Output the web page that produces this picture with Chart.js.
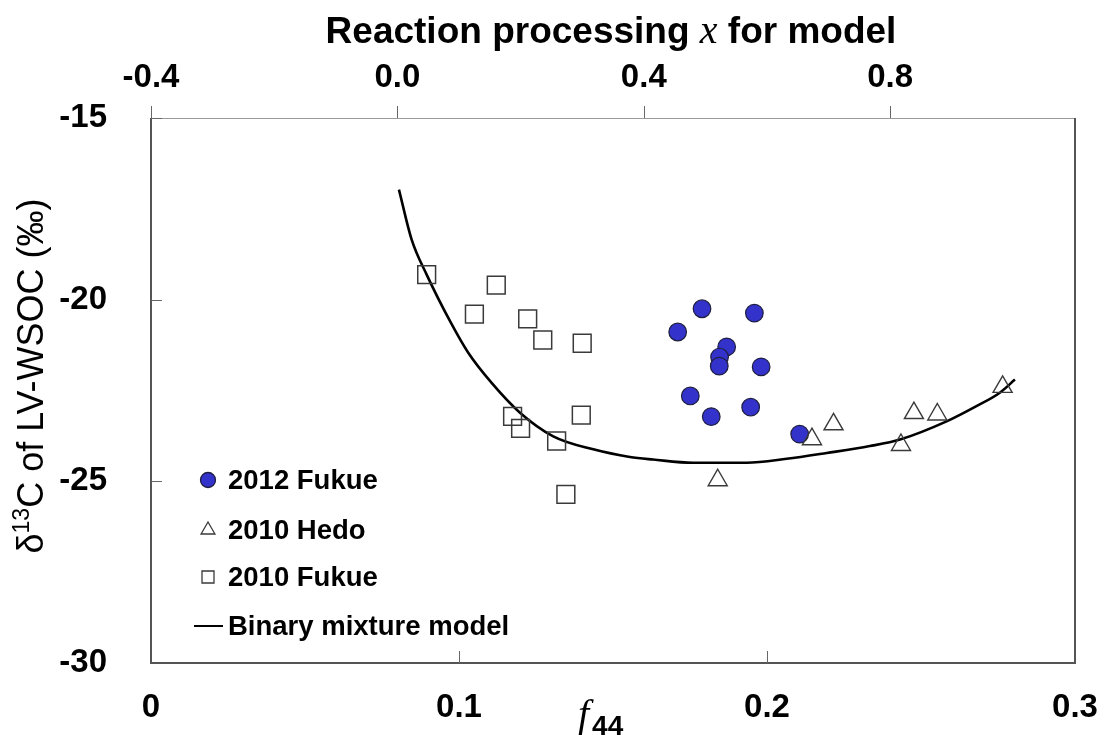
<!DOCTYPE html>
<html><head><meta charset="utf-8">
<script src="https://cdn.jsdelivr.net/npm/chart.js@4/dist/chart.umd.min.js"></script>
<style>html,body{margin:0;padding:0;background:#fff;overflow:hidden}#wrap{position:relative;width:1105px;height:735px}</style>
</head><body><div id="wrap"><canvas id="c" width="1105" height="735"></canvas></div>
<script>
// ---- data ----
const f44TickValues = [0, 0.1, 0.2, 0.3];
const f44TickLabels = ['0', '0.1', '0.2', '0.3'];
const reactionTickValues = [-0.4, 0.0, 0.4, 0.8];
const reactionTickLabels = ['-0.4', '0.0', '0.4', '0.8'];
const yTickValues = [-15, -20, -25, -30];
const yTickLabels = ['-15', '-20', '-25', '-30'];

const seriesNames = ['2012 Fukue', '2010 Hedo', '2010 Fukue', 'Binary mixture model'];

const fukue2012F44 = [0.1789, 0.1959, 0.1710, 0.1869, 0.1846, 0.1845, 0.1981, 0.1751, 0.1947, 0.1819, 0.2106];
const fukue2012D13C = [-20.25, -20.37, -20.89, -21.30, -21.58, -21.83, -21.85, -22.65, -22.96, -23.22, -23.70];

const hedo2010F44 = [0.1840, 0.2146, 0.2216, 0.2435, 0.2477, 0.2553, 0.2765];
const hedo2010D13C = [-24.97, -23.84, -23.43, -24.00, -23.12, -23.16, -22.40];

const fukue2010F44 = [0.0895, 0.1121, 0.1050, 0.1223, 0.1272, 0.1400, 0.1174, 0.1200, 0.1397, 0.1317, 0.1347];
const fukue2010D13C = [-19.31, -19.60, -20.40, -20.53, -21.11, -21.20, -23.21, -23.54, -23.18, -23.89, -25.36];

const modelF44 = [0.0805, 0.0846, 0.0895, 0.0974, 0.1030, 0.1106, 0.1198, 0.1306, 0.1436, 0.1555, 0.1630, 0.1760, 0.1934, 0.2064, 0.2194, 0.2334, 0.2432, 0.2583, 0.2680, 0.2756, 0.2805];
const modelD13C = [-16.97, -18.34, -19.31, -20.64, -21.46, -22.29, -23.11, -23.76, -24.12, -24.33, -24.40, -24.49, -24.49, -24.38, -24.22, -24.03, -23.85, -23.35, -22.93, -22.56, -22.20];

function pts(xs, ys) { return xs.map((x, i) => ({x: x, y: ys[i]})); }

const SANS = "'Liberation Sans', Arial, sans-serif";
const SERIF = "'Liberation Serif', 'Times New Roman', serif";
const frameColor = '#555555';

const decorPlugin = {
  id: 'decor',
  beforeDatasetsDraw(chart) {
    const ctx = chart.ctx, a = chart.chartArea;
    const xs = chart.scales.x, x2 = chart.scales.x2, ys = chart.scales.y;
    ctx.save();
    ctx.lineWidth = 1;
    ctx.strokeStyle = '#9a9a9a';
    ctx.beginPath(); ctx.moveTo(a.left, a.top + 0.5); ctx.lineTo(a.right, a.top + 0.5); ctx.stroke();
    ctx.lineWidth = 2;
    ctx.strokeStyle = frameColor;
    ctx.beginPath();
    ctx.moveTo(a.left, a.top); ctx.lineTo(a.left, a.bottom); ctx.lineTo(a.right, a.bottom); ctx.lineTo(a.right, a.top);
    ctx.stroke();
    ctx.lineWidth = 1;
    ctx.strokeStyle = '#666';
    ctx.beginPath();
    reactionTickValues.forEach(v => { const p = Math.round(x2.getPixelForValue(v)) + 0.5; ctx.moveTo(p, a.top); ctx.lineTo(p, a.top - 12); });
    f44TickValues.forEach(v => { const p = Math.round(xs.getPixelForValue(v)) + 0.5; if (p > a.left + 2 && p < a.right - 2) { ctx.moveTo(p, a.bottom); ctx.lineTo(p, a.bottom - 12); } });
    yTickValues.forEach(v => { const p = Math.round(ys.getPixelForValue(v)) + 0.5; if (p < a.bottom - 2) { ctx.moveTo(a.left, p); ctx.lineTo(a.left + 11, p); } });
    ctx.stroke();
    ctx.restore();
  },
  afterDraw(chart) {
    const ctx = chart.ctx;
    ctx.save();
    ctx.fillStyle = '#000';
    // top title
    const t1 = 'Reaction processing ', t2 = 'x', t3 = ' for model';
    const fB = 'bold 37px ' + SANS, fI = 'italic 40px ' + SERIF;
    ctx.font = fB; const w1 = ctx.measureText(t1).width, w3 = ctx.measureText(t3).width;
    ctx.font = fI; const w2 = ctx.measureText(t2).width;
    let x = 611 - (w1 + w2 + w3) / 2;
    ctx.textBaseline = 'alphabetic'; ctx.textAlign = 'left';
    ctx.font = fB; ctx.fillText(t1, x, 43); x += w1;
    ctx.font = fI; ctx.fillText(t2, x, 43); x += w2;
    ctx.font = fB; ctx.fillText(t3, x, 43);
    // bottom title f44
    ctx.font = 'italic 40px ' + SERIF; ctx.fillText('f', 578, 727);
    const fw = ctx.measureText('f').width;
    ctx.font = 'bold 28px ' + SANS; ctx.fillText('44', 578 + fw + 3, 735);
    // y title
    ctx.translate(33, 376); ctx.rotate(-Math.PI / 2);
    const fR = '36px ' + SANS, fS = '23px ' + SANS;
    ctx.font = fR; const a1 = ctx.measureText('\u03b4').width, a3 = ctx.measureText('C of LV-WSOC (\u2030)').width;
    ctx.font = fS; const a2 = ctx.measureText('13').width;
    let yx = -(a1 + a2 + a3) / 2;
    ctx.textBaseline = 'middle';
    ctx.font = fR; ctx.fillText('\u03b4', yx, 0); yx += a1;
    ctx.font = fS; ctx.fillText('13', yx, -10); yx += a2;
    ctx.font = fR; ctx.fillText('C of LV-WSOC (\u2030)', yx, 0);
    ctx.restore();
    // legend
    const ds = chart.data.datasets;
    const rows = [480, 530, 577, 626];
    const mx = 208, tx = 228;
    ctx.save();
    ctx.font = 'bold 27.5px ' + SANS; ctx.textBaseline = 'middle'; ctx.textAlign = 'left';
    ds.forEach((d, i) => {
      const y = rows[i];
      ctx.lineWidth = 1.3;
      ctx.strokeStyle = d.borderColor; ctx.fillStyle = d.backgroundColor;
      ctx.beginPath();
      if (d.pointStyle === 'circle') { ctx.arc(mx, y, 7.5, 0, Math.PI * 2); ctx.fill(); ctx.stroke(); }
      else if (d.pointStyle === 'triangle') { const r = 8; ctx.moveTo(mx, y - r); ctx.lineTo(mx + r * 0.866, y + r / 2); ctx.lineTo(mx - r * 0.866, y + r / 2); ctx.closePath(); ctx.stroke(); }
      else if (d.pointStyle === 'rect') { ctx.rect(mx - 6, y - 6, 12, 12); ctx.stroke(); }
      else { ctx.lineWidth = 2; ctx.strokeStyle = '#000'; ctx.moveTo(194, y); ctx.lineTo(223, y); ctx.stroke(); }
      ctx.fillStyle = '#000';
      ctx.fillText(d.label, tx, y + 1);
    });
    ctx.restore();
  }
};

const tickFont = {family: SANS, size: 33, weight: 'bold'};
function noPad(s) { s.paddingLeft = 0; s.paddingRight = 0; }

new Chart(document.getElementById('c'), {
  type: 'scatter',
  data: {
    datasets: [
      {label: seriesNames[0], data: pts(fukue2012F44, fukue2012D13C), pointStyle: 'circle', pointRadius: 8.8, pointHoverRadius: 8.8,
       backgroundColor: '#3333cc', borderColor: '#1e1e40', borderWidth: 1.2, order: 2},
      {label: seriesNames[1], data: pts(hedo2010F44, hedo2010D13C), pointStyle: 'triangle', pointRadius: 11, pointHoverRadius: 11,
       backgroundColor: 'rgba(255,255,255,0)', borderColor: '#3a3a3a', borderWidth: 1.4, order: 1},
      {label: seriesNames[2], data: pts(fukue2010F44, fukue2010D13C), pointStyle: 'rect', pointRadius: 12.6, pointHoverRadius: 12.6,
       backgroundColor: 'rgba(255,255,255,0)', borderColor: '#3a3a3a', borderWidth: 1.5, order: 3},
      {label: seriesNames[3], type: 'line', data: pts(modelF44, modelD13C), showLine: true, pointRadius: 0, borderColor: '#000',
       backgroundColor: '#000', borderWidth: 2.6, cubicInterpolationMode: 'monotone', fill: false, order: 4}
    ]
  },
  options: {
    responsive: false, animation: false, devicePixelRatio: 1,
    layout: {padding: {left: 0, right: 30, top: 0, bottom: 0}},
    plugins: {legend: {display: false}, tooltip: {enabled: false}, title: {display: false}},
    scales: {
      x: {type: 'linear', position: 'bottom', min: 0, max: 0.3,
          afterBuildTicks: s => { s.ticks = f44TickValues.map(v => ({value: v})); },
          afterFit: s => { s.height = 72; noPad(s); },
          ticks: {font: tickFont, color: '#000', padding: 25, maxRotation: 0, autoSkip: false,
                  callback: v => f44TickLabels[f44TickValues.indexOf(v)]},
          grid: {display: false, drawTicks: false}, border: {display: false}},
      x2: {type: 'linear', position: 'top', min: -0.4, max: 1.1,
          afterBuildTicks: s => { s.ticks = reactionTickValues.map(v => ({value: v})); },
          afterFit: s => { s.height = 118; noPad(s); },
          ticks: {font: tickFont, color: '#000', padding: 20, maxRotation: 0, autoSkip: false,
                  callback: v => reactionTickLabels[reactionTickValues.indexOf(v)]},
          grid: {display: false, drawTicks: false}, border: {display: false}},
      y: {type: 'linear', position: 'left', min: -30, max: -15,
          afterBuildTicks: s => { s.ticks = yTickValues.map(v => ({value: v})); },
          afterFit: s => { s.width = 151; s.paddingTop = 0; s.paddingBottom = 0; },
          ticks: {font: tickFont, color: '#000', padding: 44, autoSkip: false,
                  callback: v => yTickLabels[yTickValues.indexOf(v)]},
          grid: {display: false, drawTicks: false}, border: {display: false}}
    }
  },
  plugins: [decorPlugin]
});
</script>
</body></html>
